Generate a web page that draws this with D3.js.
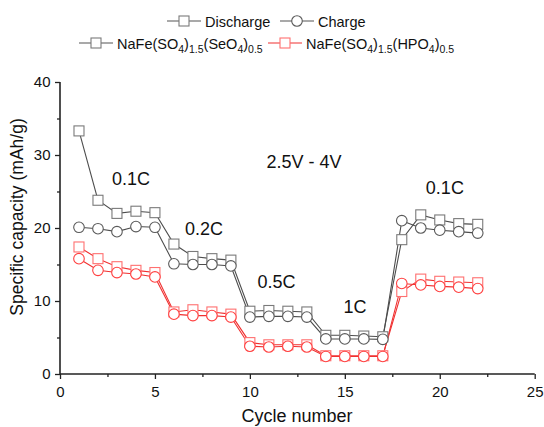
<!DOCTYPE html>
<html>
<head>
<meta charset="utf-8">
<script src="https://cdn.jsdelivr.net/npm/d3@7"></script>
<style>
  body { margin: 0; background: #fff; }
  text { font-family: "Liberation Sans", Arial, sans-serif; }
</style>
</head>
<body>
<svg id="chart" width="544" height="427"></svg>
<script>
// cycle numbers
var cycles = [1,2,3,4,5,6,7,8,9,10,11,12,13,14,15,16,17,18,19,20,21,22];

// NaFe(SO4)1.5(SeO4)0.5
var seDischarge = [33.3,23.8,22.0,22.3,22.1,17.8,16.1,15.8,15.6,8.6,8.7,8.6,8.5,5.3,5.3,5.2,5.1,18.4,21.8,21.1,20.6,20.5];
var seCharge    = [20.1,19.9,19.5,20.2,20.1,15.1,15.0,15.0,14.8,7.8,7.9,7.9,7.8,4.8,4.8,4.8,4.75,21.0,20.0,19.7,19.5,19.3];

// NaFe(SO4)1.5(HPO4)0.5
var hpDischarge = [17.4,15.8,14.7,14.2,13.9,8.5,8.8,8.5,8.2,4.3,4.0,4.0,4.0,2.5,2.5,2.5,2.5,11.3,13.0,12.7,12.6,12.5];
var hpCharge    = [15.8,14.2,13.9,13.7,13.3,8.2,8.0,8.0,7.8,3.8,3.7,3.8,3.7,2.4,2.4,2.4,2.4,12.4,12.2,12.0,11.9,11.7];

var xTicks = [0,5,10,15,20,25];
var yTicks = [0,10,20,30,40];

// rate labels on the plot
var rateLabels = [
  {text: "0.1C", x: 3.74, y: 25.9},
  {text: "0.2C", x: 7.58, y: 19.0},
  {text: "0.5C", x: 11.4, y: 11.8},
  {text: "1C", x: 15.53, y: 8.3},
  {text: "0.1C", x: 20.27, y: 24.66},
  {text: "2.5V - 4V", x: 12.85, y: 28.2}
];

var svg = d3.select("#chart");

var x = d3.scaleLinear().domain([0, 25]).range([60, 534.7]);
var y = d3.scaleLinear().domain([0, 40]).range([374, 82]);

// axes
var xAxis = d3.axisBottom(x).tickValues(xTicks).tickSize(5).tickFormat(d3.format("d"));
var yAxis = d3.axisLeft(y).tickValues(yTicks).tickSize(5).tickFormat(d3.format("d"));

var gx = svg.append("g").attr("transform", "translate(0,374)").call(xAxis);
var gy = svg.append("g").attr("transform", "translate(60,0)").call(yAxis);

// minor ticks
svg.append("g").attr("transform", "translate(0,374)")
  .call(d3.axisBottom(x).tickValues([2.5,7.5,12.5,17.5,22.5]).tickSize(3).tickFormat(""))
  .select(".domain").remove();
svg.append("g").attr("transform", "translate(60,0)")
  .call(d3.axisLeft(y).tickValues([5,15,25,35]).tickSize(3).tickFormat(""))
  .select(".domain").remove();

svg.selectAll(".domain").attr("stroke", "#222").attr("stroke-width", 1.6);
svg.selectAll(".tick line").attr("stroke", "#222").attr("stroke-width", 1.3);
gx.selectAll("text").attr("font-size", 15).attr("fill", "#111").attr("dy", "1.0em");
gy.selectAll("text").attr("font-size", 15).attr("fill", "#111").attr("dx", "-0.1em");
gx.select(".domain").attr("d", "M60,0H534.7");
gy.select(".domain").attr("d", "M0,82V374");

// axis titles
svg.append("text").attr("x", 297).attr("y", 422).attr("text-anchor", "middle")
  .attr("font-size", 18).attr("fill", "#111").text("Cycle number");
svg.append("text").attr("transform", "translate(23,217) rotate(-90)").attr("text-anchor", "middle")
  .attr("font-size", 17.5).attr("fill", "#111").text("Specific capacity (mAh/g)");

// series
var series = [
  {vals: seDischarge, shape: "square", line: "#4d4d4d", stroke: "#7a7a7a"},
  {vals: seCharge, shape: "circle", line: "#4d4d4d", stroke: "#5a5a5a"},
  {vals: hpDischarge, shape: "square", line: "#f03030", stroke: "#ff7070"},
  {vals: hpCharge, shape: "circle", line: "#f03030", stroke: "#ff4040"}
];

var line = d3.line().x(function(d) { return x(d[0]); }).y(function(d) { return y(d[1]); });

series.forEach(function(s) {
  var pts = cycles.map(function(c, i) { return [c, s.vals[i]]; });
  svg.append("path").datum(pts).attr("d", line)
    .attr("fill", "none").attr("stroke", s.line).attr("stroke-width", 1.1);
});

series.forEach(function(s) {
  var pts = cycles.map(function(c, i) { return [c, s.vals[i]]; });
  var g = svg.append("g");
  if (s.shape === "square") {
    g.selectAll("rect").data(pts).enter().append("rect")
      .attr("x", function(d) { return x(d[0]) - 5; })
      .attr("y", function(d) { return y(d[1]) - 5; })
      .attr("width", 10).attr("height", 10)
      .attr("fill", "white").attr("stroke", s.stroke).attr("stroke-width", 1.1);
  } else {
    g.selectAll("circle").data(pts).enter().append("circle")
      .attr("cx", function(d) { return x(d[0]); })
      .attr("cy", function(d) { return y(d[1]); })
      .attr("r", 5.3)
      .attr("fill", "white").attr("stroke", s.stroke).attr("stroke-width", 1.1);
  }
});

// labels inside plot
svg.selectAll(".rate").data(rateLabels).enter().append("text")
  .attr("x", function(d) { return x(d.x); })
  .attr("y", function(d) { return y(d.y); })
  .attr("text-anchor", "middle").attr("font-size", 18).attr("fill", "#111")
  .text(function(d) { return d.text; });

// legend
function legendSym(cx, cy, shape, lineColor, strokeColor) {
  svg.append("line").attr("x1", cx - 17).attr("x2", cx + 17).attr("y1", cy).attr("y2", cy)
    .attr("stroke", lineColor).attr("stroke-width", 1.1);
  if (shape === "square") {
    svg.append("rect").attr("x", cx - 5).attr("y", cy - 5).attr("width", 10).attr("height", 10)
      .attr("fill", "white").attr("stroke", strokeColor).attr("stroke-width", 1.1);
  } else {
    svg.append("circle").attr("cx", cx).attr("cy", cy).attr("r", 5.3)
      .attr("fill", "white").attr("stroke", strokeColor).attr("stroke-width", 1.1);
  }
}

legendSym(184, 21, "square", "#555", "#7a7a7a");
svg.append("text").attr("x", 205).attr("y", 26.5).attr("font-size", 14.5).attr("fill", "#111").text("Discharge");
legendSym(297, 21, "circle", "#555", "#5a5a5a");
svg.append("text").attr("x", 318).attr("y", 26.5).attr("font-size", 14.5).attr("fill", "#111").text("Charge");

// formula text with subscripts: parts alternate normal / subscript
function formula(tx, parts) {
  var t = svg.append("text").attr("x", tx).attr("y", 48.5).attr("font-size", 14.5).attr("fill", "#111");
  var shifted = false;
  parts.forEach(function(p, i) {
    var sub = i % 2 === 1;
    var ts = t.append("tspan").text(p);
    if (sub) { ts.attr("font-size", 10.5).attr("dy", 4); shifted = true; }
    else if (shifted) { ts.attr("dy", -4); shifted = false; }
  });
}

legendSym(96, 43, "square", "#555", "#7a7a7a");
formula(117, ["NaFe(SO", "4", ")", "1.5", "(SeO", "4", ")", "0.5"]);
legendSym(285, 43, "square", "#f03030", "#ff7070");
formula(306, ["NaFe(SO", "4", ")", "1.5", "(HPO", "4", ")", "0.5"]);
</script>
</body>
</html>
